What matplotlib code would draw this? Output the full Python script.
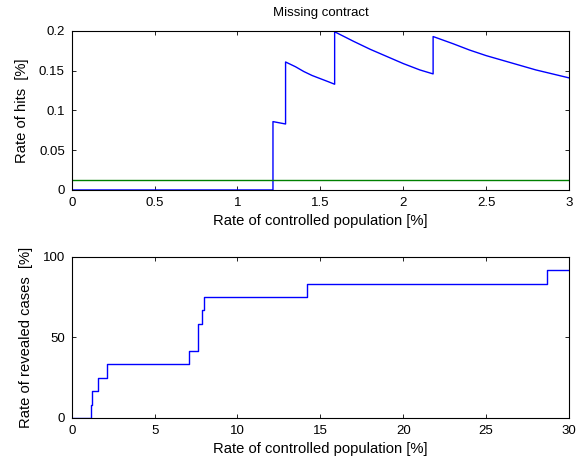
import matplotlib
matplotlib.use("Agg")
import matplotlib.pyplot as plt

plt.rcParams['font.family'] = ['Liberation Sans', 'DejaVu Sans']
plt.rcParams['font.size'] = 9.5

# top panel: rate of hits vs rate of controlled population
hits_x = [0, 1.214, 1.214, 1.29, 1.29, 1.35, 1.40, 1.45, 1.50, 1.55, 1.586,
          1.586, 1.70, 1.80, 1.90, 2.00, 2.10, 2.18,
          2.18, 2.30, 2.40, 2.50, 2.60, 2.70, 2.80, 2.90, 3.00]
hits_y = [0, 0, 0.086, 0.083, 0.161, 0.155, 0.149, 0.144, 0.140, 0.136, 0.133,
          0.199, 0.187, 0.177, 0.168, 0.159, 0.151, 0.146,
          0.193, 0.184, 0.176, 0.169, 0.163, 0.157, 0.151, 0.146, 0.141]
baseline_x = [0, 3]
baseline_y = [0.0125, 0.0125]

# bottom panel: revealed cases (step curve)
rev_x = [0, 1.16, 1.24, 1.6, 2.13, 7.09, 7.64, 7.88, 8.0, 14.2, 28.7, 30]
rev_y = [0, 8.3, 16.7, 25.0, 33.3, 41.7, 58.3, 66.7, 75.0, 83.3, 91.7, 91.7]

fig = plt.figure(figsize=(5.84, 4.61), dpi=100)
ax1 = fig.add_axes([0.1228, 0.5879, 0.8516, 0.3449])
ax2 = fig.add_axes([0.1228, 0.0933, 0.8516, 0.35])

lab = 10.6

ax1.plot(hits_x, hits_y, color='#0000ff', lw=1)
ax1.plot(baseline_x, baseline_y, color='#008000', lw=1)
ax1.set_xlim(0, 3)
ax1.set_ylim(0, 0.2)
ax1.set_xticks([0, 0.5, 1, 1.5, 2, 2.5, 3])
ax1.set_xticklabels(['0', '0.5', '1', '1.5', '2', '2.5', '3'])
ax1.set_yticks([0, 0.05, 0.1, 0.15, 0.2])
ax1.set_yticklabels(['0', '0.05', '0.1', '0.15', '0.2'])
ax1.set_title('Missing contract', fontsize=9.5, pad=11)
ax1.set_xlabel('Rate of controlled population [%]', fontsize=lab, labelpad=4)
ax1.set_ylabel('Rate of hits  [%]', fontsize=lab, labelpad=7)

ax2.step(rev_x, rev_y, where='post', color='#0000ff', lw=1)
ax2.set_xlim(0, 30)
ax2.set_ylim(0, 100)
ax2.set_xticks(range(0, 31, 5))
ax2.set_yticks([0, 50, 100])
ax2.set_xlabel('Rate of controlled population [%]', fontsize=lab, labelpad=4)
ax2.set_ylabel('Rate of revealed cases  [%]', fontsize=lab, labelpad=7)

for ax in (ax1, ax2):
    ax.tick_params(direction='in', top=True, right=True, length=3, width=0.6, pad=5)
    for s in ax.spines.values():
        s.set_linewidth(0.8)

fig.savefig('out.png', dpi=100)
